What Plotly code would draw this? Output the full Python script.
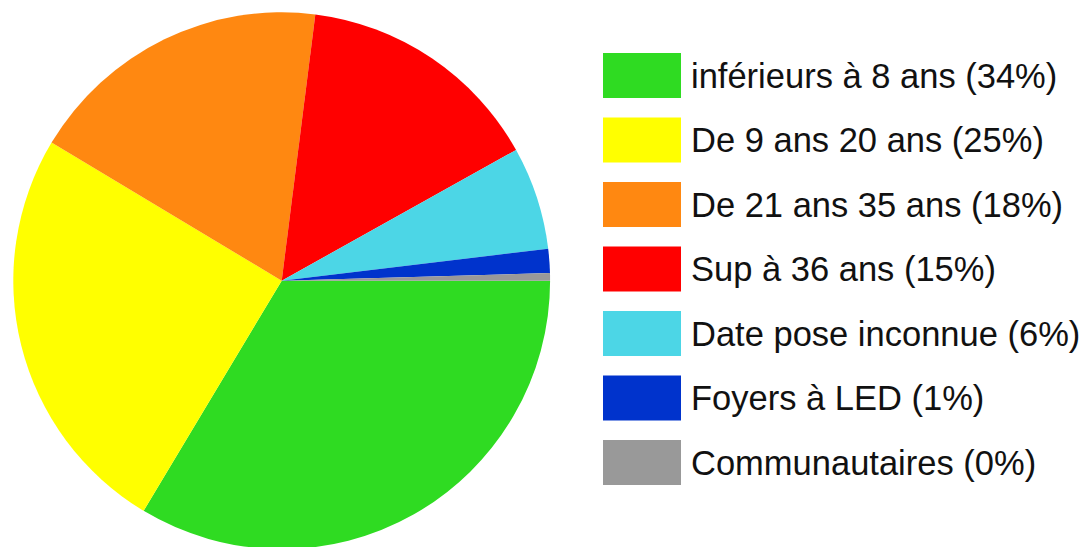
import plotly.graph_objects as go

# Data
categories = ["inférieurs à 8 ans", "De 9 ans 20 ans", "De 21 ans 35 ans",
              "Sup à 36 ans", "Date pose inconnue", "Foyers à LED", "Communautaires"]
values = [33.6, 25.0, 18.4, 14.9, 6.2, 1.45, 0.45]
colors = ["#2fdb22", "#ffff00", "#ff8811", "#ff0000", "#4cd6e6", "#0033cc", "#999999"]

W, H = 1089, 547
OFF = 8  # page body margin offset
cx, cy, r = 281.7 - OFF, 280.7 - OFF, 268.4  # pie centre/radius in figure px

fig = go.Figure()
fig.add_trace(go.Pie(
    labels=categories, values=values, sort=False, direction="clockwise",
    rotation=90, textinfo="none", hoverinfo="label+percent",
    marker=dict(colors=colors, line=dict(width=0)),
    domain=dict(x=[(cx - r) / W, (cx + r) / W],
                y=[(H - cy - r) / H, (H - cy + r) / H]),
    showlegend=False,
))

# Custom large legend (swatches + labels)
total = sum(values)
shapes, annotations = [], []
top0, step, sh = 53 - OFF, 64.5, 45
for i, (cat, val, col) in enumerate(zip(categories, values, colors)):
    t = top0 + step * i
    shapes.append(dict(type="rect", xref="paper", yref="paper",
                       x0=(603 - OFF) / W, x1=(681 - OFF) / W,
                       y0=1 - (t + sh) / H, y1=1 - t / H,
                       fillcolor=col, line=dict(width=0)))
    pct = round(val / total * 100)
    annotations.append(dict(xref="paper", yref="paper", x=(692 - OFF - 3) / W,
                            y=1 - (t + sh / 2) / H,
                            xanchor="left", yanchor="middle", showarrow=False,
                            text=f"{cat} ({pct}%)",
                            font=dict(family="Liberation Sans, Arial, sans-serif",
                                      size=34.5, color="#111111")))

fig.update_layout(width=W, height=H, margin=dict(l=0, r=0, t=0, b=0),
                  paper_bgcolor="white", plot_bgcolor="white",
                  shapes=shapes, annotations=annotations)

fig.write_html("out.html")
